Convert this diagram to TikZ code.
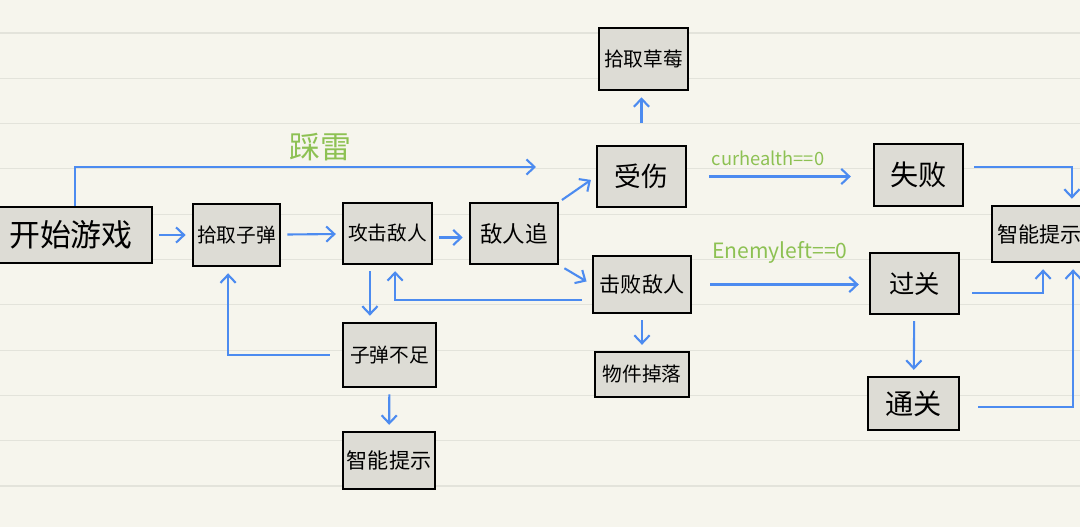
\documentclass[tikz,border=0pt]{standalone}
\usepackage{fontspec}
\setmainfont{Noto Sans CJK SC}
\usepackage{tikz}
\usetikzlibrary{arrows.meta}
\definecolor{PaperCream}{HTML}{F6F5ED}
\definecolor{RuleGray}{HTML}{E3E3DB}
\definecolor{BoxGray}{HTML}{DDDCD5}
\definecolor{FlowBlue}{HTML}{4C8BF0}
\definecolor{CondGreen}{HTML}{8DC153}

\begin{document}
\begin{tikzpicture}[x=0.025cm,y=-0.025cm,
    box/.style n args={2}{draw=black,line width=1.8pt,fill=BoxGray,inner sep=0pt,
      minimum width=#1,minimum height=#2,font=\fontsize{14}{14}\selectfont},
    flow/.style={draw=FlowBlue,line width=1.5pt,shorten <=0.15cm,shorten >=0.15cm,
      -{Straight Barb[length=2mm,width=3.8mm]}},
    cond/.style={text=CondGreen,inner sep=0pt}]
  \clip (0,0) rectangle (1080,527);
  \fill[PaperCream] (0,0) rectangle (1080,527);
  \foreach \k in {0,...,10}
    \draw[RuleGray,line width=0.8pt] (0,{33+45.3*\k}) -- (1080,{33+45.3*\k});

  \node[box={4.05cm}{1.4cm},font=\fontsize{22}{22}\selectfont] (start) at (71,235) {开始游戏};
  \node[box={2.18cm}{1.55cm}] (pick) at (236.5,235) {拾取子弹};
  \node[box={2.22cm}{1.52cm}] (attack) at (387.5,233.5) {攻击敌人};
  \node[box={2.2cm}{1.52cm},font=\fontsize{16}{16}\selectfont] (chase) at (514,233.5) {敌人追};
  \node[box={2.22cm}{1.52cm},font=\fontsize{19}{19}\selectfont] (hurt) at (641.5,176.5) {受伤};
  \node[box={2.22cm}{1.55cm}] (berry) at (643.5,59) {拾取草莓};
  \node[box={2.22cm}{1.55cm},font=\fontsize{20}{20}\selectfont] (fail) at (918.5,175) {失败};
  \node[box={2.38cm}{1.4cm},font=\fontsize{15}{15}\selectfont] (hintR) at (1039.5,234) {智能提示};
  \node[box={2.45cm}{1.42cm},font=\fontsize{15}{15}\selectfont] (defeat) at (642,284.5) {击败敌人};
  \node[box={2.35cm}{1.12cm}] (drop) at (642,374.5) {物件掉落};
  \node[box={2.22cm}{1.52cm},font=\fontsize{18}{18}\selectfont] (pass) at (914.5,283.5) {过关};
  \node[box={2.28cm}{1.32cm},font=\fontsize{20}{20}\selectfont] (clear) at (913.5,403.5) {通关};
  \node[box={2.32cm}{1.6cm}] (lack) at (389.5,355) {子弹不足};
  \node[box={2.3cm}{1.42cm},font=\fontsize{15}{15}\selectfont] (hintB) at (389,460.5) {智能提示};

  \node[cond,font=\fontsize{22}{22}\selectfont] (mine) at (320,147) {踩雷};
  \node[cond,font=\fontsize{13}{13}\selectfont] (dead) at (768,158) {curhealth==0};
  \node[cond,font=\fontsize{15}{15}\selectfont] (win) at (780,252) {Enemyleft==0};
  \coordinate (mineend) at (542,167);

  \draw[flow] (start) -- (pick);
  \draw[flow] (pick) -- (attack);
  \draw[flow] ([yshift=-0.1cm]attack.east) -- ([yshift=-0.1cm]attack.east -| chase.west);
  \draw[flow,shorten <=0cm] ([xshift=0.1cm]start.north) |- (mineend);
  \draw[flow,shorten <=0.08cm] (chase.north east) -- (hurt.west);
  \draw[flow] (chase.south east) -- (defeat.west);
  \draw[flow,shorten <=0.25cm] ([yshift=-0.38cm]defeat.west) -| ([xshift=0.19cm]attack.south);
  \draw[flow] ([xshift=-0.44cm]attack.south) -- ([xshift=-0.44cm]attack.south |- lack.north);
  \draw[flow,shorten <=0.3cm] (lack.west) -| ([xshift=-0.21cm]pick.south);
  \draw[flow] (lack) -- (hintB);
  \draw[flow,shorten <=0.55cm] (hurt.north) -- (hurt.north |- berry.south);
  \draw[flow,shorten <=0.55cm,shorten >=0.55cm] (hurt) -- (hurt -| fail.west);
  \draw[flow,shorten <=0.45cm,shorten >=0.25cm] (defeat) -- (defeat -| pass.west);
  \draw[flow] (defeat) -- (drop);
  \draw[flow,shorten <=0.25cm] ([yshift=0.2cm]fail.east) -| ([xshift=0.81cm]hintR.north);
  \draw[flow,shorten <=0.3cm] ([yshift=-0.24cm]pass.east) -| ([xshift=0.09cm]hintR.south);
  \draw[flow,shorten <=0.45cm] ([yshift=-0.09cm]clear.east) -| ([xshift=0.84cm]hintR.south);
  \draw[flow] (pass) -- (clear);
\end{tikzpicture}
\end{document}
